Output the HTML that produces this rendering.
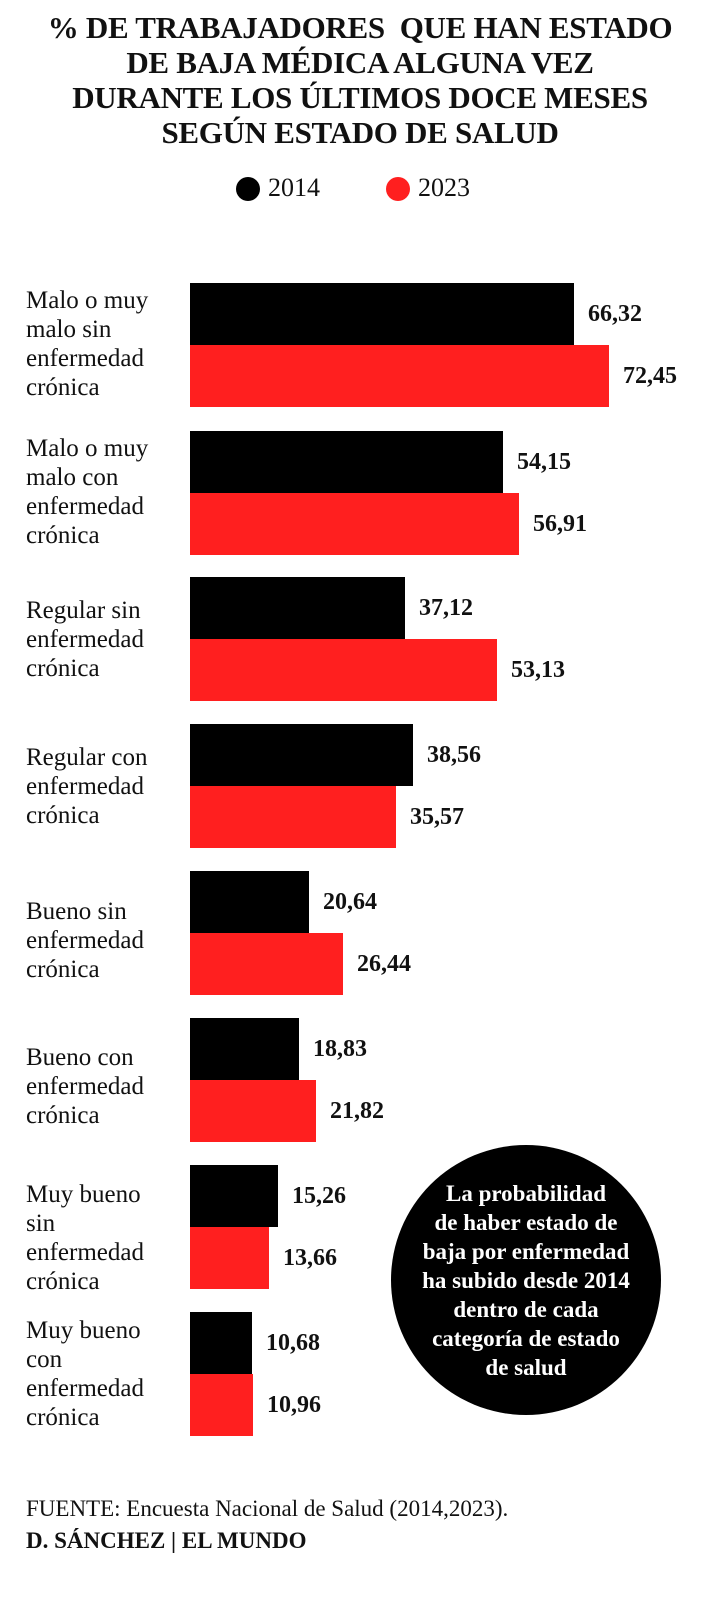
<!DOCTYPE html>
<html><head><meta charset="utf-8"><style>
body{margin:0;background:#fff;width:720px;height:1600px;position:relative;font-family:"Liberation Serif",serif;color:#111;overflow:hidden}
.t{position:absolute;left:0;width:720px;text-align:center;font-weight:bold;font-size:31px;line-height:35px;top:10px;letter-spacing:-0.3px}
.lg{position:absolute;top:173px;font-size:26px}
.dot{position:absolute;width:24px;height:24px;border-radius:50%;top:177px}
.b{position:absolute;left:190px;height:62px}
.k{background:#000}.r{background:#ff1f1f}
.v{position:absolute;font-weight:bold;font-size:24px;line-height:62px}
.c{position:absolute;left:26px;font-size:25px;line-height:29px}
.circ{position:absolute;left:391px;top:1145px;width:270px;height:270px;border-radius:50%;background:#000;color:#fff;font-weight:bold;font-size:23px;line-height:29px;text-align:center;display:flex;align-items:center;justify-content:center}
.f{position:absolute;left:26px;font-size:23px}
</style></head><body>
<div class="t">% DE TRABAJADORES &nbsp;QUE HAN ESTADO<br>DE BAJA MÉDICA ALGUNA VEZ<br>DURANTE LOS ÚLTIMOS DOCE MESES<br>SEGÚN ESTADO DE SALUD</div>
<div class="dot" style="left:236px;background:#000"></div><div class="lg" style="left:268px">2014</div>
<div class="dot" style="left:386px;background:#ff1f1f"></div><div class="lg" style="left:418px">2023</div>

<div class="c" style="top:286px">Malo o muy<br>malo sin<br>enfermedad<br>crónica</div>
<div class="b k" style="top:283px;width:384px"></div><div class="v" style="top:283px;left:588px">66,32</div>
<div class="b r" style="top:345px;width:419px"></div><div class="v" style="top:345px;left:623px">72,45</div>

<div class="c" style="top:434px">Malo o muy<br>malo con<br>enfermedad<br>crónica</div>
<div class="b k" style="top:431px;width:313px"></div><div class="v" style="top:431px;left:517px">54,15</div>
<div class="b r" style="top:493px;width:329px"></div><div class="v" style="top:493px;left:533px">56,91</div>

<div class="c" style="top:596px">Regular sin<br>enfermedad<br>crónica</div>
<div class="b k" style="top:577px;width:215px"></div><div class="v" style="top:577px;left:419px">37,12</div>
<div class="b r" style="top:639px;width:307px"></div><div class="v" style="top:639px;left:511px">53,13</div>

<div class="c" style="top:743px">Regular con<br>enfermedad<br>crónica</div>
<div class="b k" style="top:724px;width:223px"></div><div class="v" style="top:724px;left:427px">38,56</div>
<div class="b r" style="top:786px;width:206px"></div><div class="v" style="top:786px;left:410px">35,57</div>

<div class="c" style="top:897px">Bueno sin<br>enfermedad<br>crónica</div>
<div class="b k" style="top:871px;width:119px"></div><div class="v" style="top:871px;left:323px">20,64</div>
<div class="b r" style="top:933px;width:153px"></div><div class="v" style="top:933px;left:357px">26,44</div>

<div class="c" style="top:1043px">Bueno con<br>enfermedad<br>crónica</div>
<div class="b k" style="top:1018px;width:109px"></div><div class="v" style="top:1018px;left:313px">18,83</div>
<div class="b r" style="top:1080px;width:126px"></div><div class="v" style="top:1080px;left:330px">21,82</div>

<div class="c" style="top:1180px">Muy bueno<br>sin<br>enfermedad<br>crónica</div>
<div class="b k" style="top:1165px;width:88px"></div><div class="v" style="top:1165px;left:292px">15,26</div>
<div class="b r" style="top:1227px;width:79px"></div><div class="v" style="top:1227px;left:283px">13,66</div>

<div class="c" style="top:1316px">Muy bueno<br>con<br>enfermedad<br>crónica</div>
<div class="b k" style="top:1312px;width:62px"></div><div class="v" style="top:1312px;left:266px">10,68</div>
<div class="b r" style="top:1374px;width:63px"></div><div class="v" style="top:1374px;left:267px">10,96</div>

<div class="circ"><div>La probabilidad<br>de haber estado de<br>baja por enfermedad<br>ha subido desde 2014<br>dentro de cada<br>categoría de estado<br>de salud</div></div>

<div class="f" style="top:1496px">FUENTE: Encuesta Nacional de Salud (2014,2023).</div>
<div class="f" style="top:1528px;font-weight:bold">D. SÁNCHEZ | EL MUNDO</div>
</body></html>
